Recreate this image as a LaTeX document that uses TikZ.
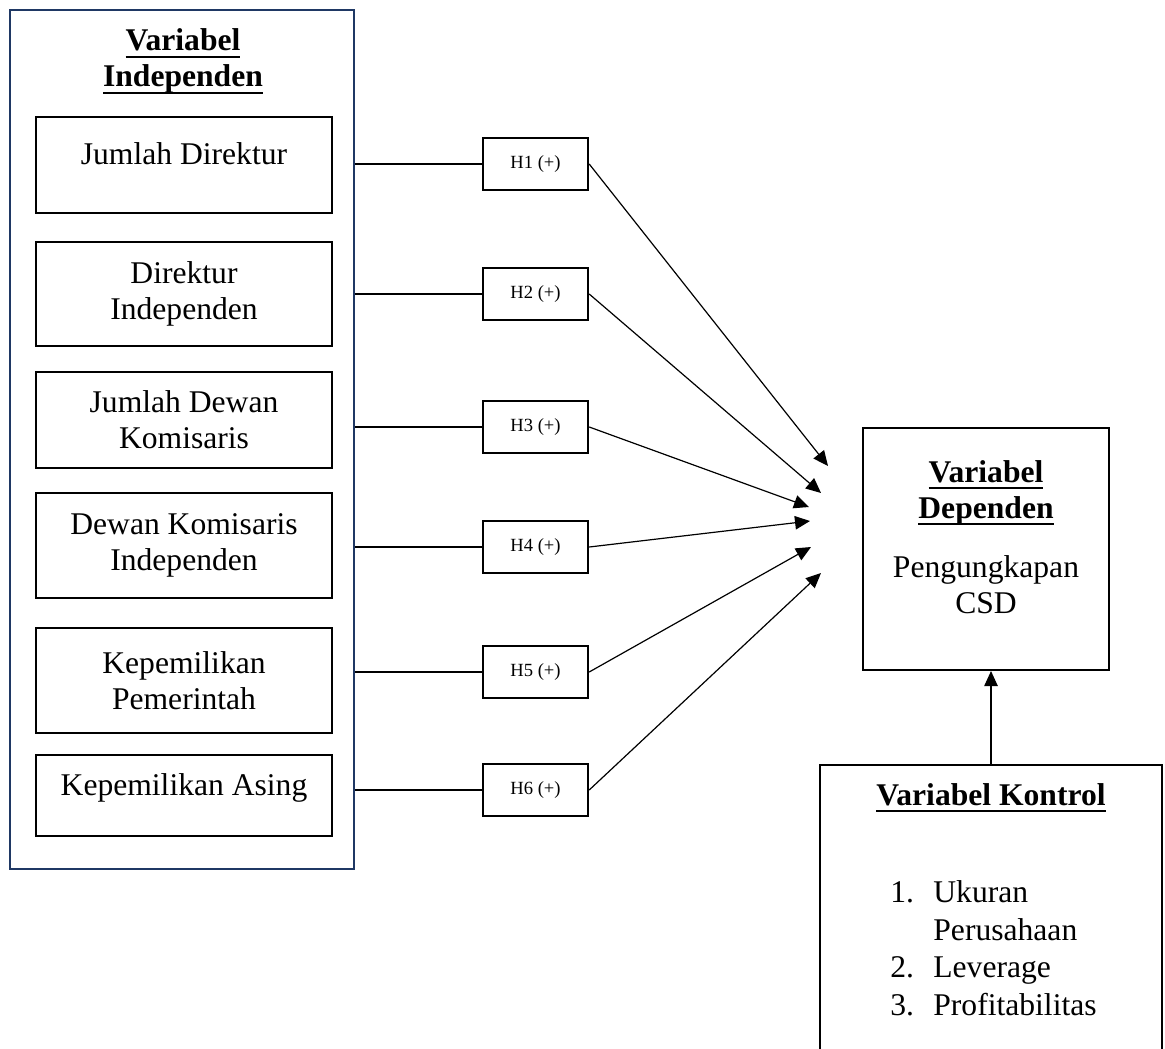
\documentclass[tikz,border=0pt]{standalone}
\usepackage{fontspec}
\setmainfont{Liberation Serif}
\usetikzlibrary{arrows.meta,positioning,backgrounds}

\definecolor{navyline}{RGB}{31,56,100}
\newcommand{\headul}[1]{\setbox0\hbox{#1}\rlap{\rule[-3.6pt]{\wd0}{1.3pt}}\box0}

\begin{document}
\begin{tikzpicture}[
    x=0.5pt, y=-0.5pt,
    varbox/.style={rectangle, draw=black, line width=1pt, minimum width=148pt, align=center, inner sep=2pt, font=\fontsize{15.8}{18}\selectfont},
    oneline/.style={text height=11pt, text depth=11pt},
    hypbox/.style={rectangle, draw=black, line width=1.2pt, minimum width=52.5pt, minimum height=26pt, inner sep=1pt, font=\fontsize{9.3}{11}\selectfont},
    headlabel/.style={inner sep=0pt, align=center, font=\fontsize{15.8}{18}\selectfont\bfseries},
    bodylabel/.style={inner sep=0pt, align=center, font=\fontsize{15.8}{18}\selectfont},
    link/.style={line width=0.6pt, draw=black},
    arrow/.style={-{Triangle[length=7.5pt, width=6.7pt]}, line width=0.6pt, draw=black}
]
\useasboundingbox (0,0) rectangle (1165,1048);

% === INDEPENDENT VARIABLES (left column) ===
\node[draw=navyline, line width=1.3pt, minimum width=172pt, minimum height=429.5pt, inner sep=0pt] (indep) at (182,439.5) {};
\node[headlabel, anchor=base] (indep-label) at (183,87) {\headul{Variabel}\\\headul{Independen}};
\node[varbox, oneline, minimum height=48pt] (jdir) at (184,165) {Jumlah Direktur};
\node[varbox, minimum height=52pt] (dirind) at (184,294) {Direktur\\Independen};
\node[varbox, minimum height=48pt] (jdewan) at (184,420) {Jumlah Dewan\\Komisaris};
\node[varbox, minimum height=52.5pt] (dkind) at (184,545.5) {Dewan Komisaris\\Independen};
\node[varbox, minimum height=52.5pt] (kpem) at (184,680.5) {Kepemilikan\\Pemerintah};
\node[varbox, oneline, minimum height=40.5pt] (kasing) at (184,795.5) {Kepemilikan Asing};

% === HYPOTHESES (middle column) ===
\node[hypbox] (h1) at (535.5,164) {H1 (+)};
\node[hypbox] (h2) at (535.5,294) {H2 (+)};
\node[hypbox] (h3) at (535.5,427) {H3 (+)};
\node[hypbox] (h4) at (535.5,547) {H4 (+)};
\node[hypbox] (h5) at (535.5,672) {H5 (+)};
\node[hypbox] (h6) at (535.5,790) {H6 (+)};

% arrow tips in front of the dependent box
\coordinate (t1) at (828,466);
\coordinate (t2) at (821,493);
\coordinate (t3) at (809,507);
\coordinate (t4) at (810,521);
\coordinate (t5) at (811,547);
\coordinate (t6) at (821,573);

% === DEPENDENT VARIABLE ===
\node[draw=black, line width=1pt, minimum width=123pt, minimum height=121pt, inner sep=0pt] (dep) at (986,549) {};
\node[bodylabel, anchor=base] (dep-label) at (986,613) {\textbf{\headul{Variabel}}\\\textbf{\headul{Dependen}}\\[11.5pt]Pengungkapan\\CSD};

% === CONTROL VARIABLES ===
\node[draw=black, line width=1pt, minimum width=171pt, minimum height=150pt, inner sep=0pt, anchor=north] (kontrol) at (991,764) {};
\node[headlabel, anchor=base] (kontrol-label) at (991,805) {\headul{Variabel Kontrol}};
\node[inner sep=0pt, align=left, anchor=base west, font=\fontsize{15.8}{18.7}\selectfont] (kontrol-list) at (890,1015)
    {\makebox[21.5pt][l]{1.}Ukuran\\\hspace*{21.5pt}Perusahaan\\\makebox[21.5pt][l]{2.}Leverage\\\makebox[21.5pt][l]{3.}Profitabilitas};

% === Connectors ===
\foreach \i in {1,...,6} {
    \draw[link] (indep.east |- h\i.west) -- (h\i.west);
    \draw[arrow] (h\i.east) -- (t\i);
}
\draw[arrow] (kontrol.north) -- (kontrol.north |- dep.south);

\end{tikzpicture}
\end{document}
